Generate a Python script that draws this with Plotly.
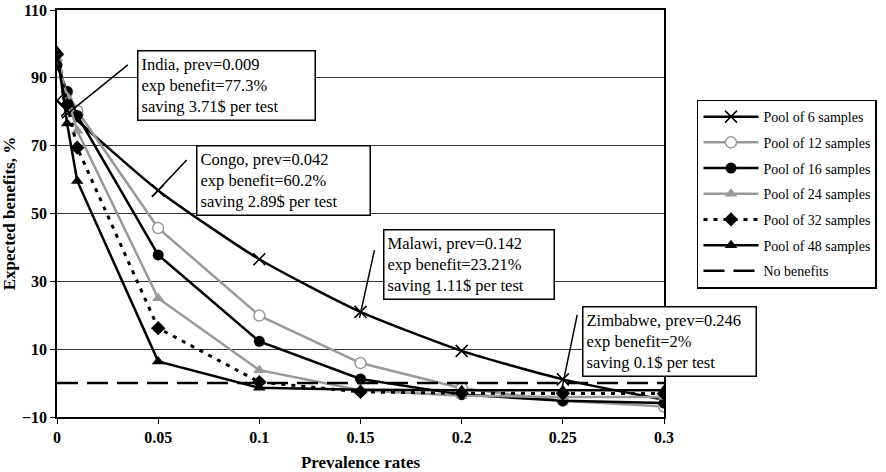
import plotly.graph_objects as go

prevalence = [0, 0.005, 0.01, 0.05, 0.1, 0.15, 0.2, 0.25, 0.3]
pool6 = [83.3, 80.4, 77.5, 56.8, 36.5, 21.0, 9.5, 1.1, -4.9]
pool12 = [91.7, 85.8, 80.3, 45.7, 19.9, 5.9, -1.5, -5.2, -6.9]
pool16 = [93.75, 86.0, 78.9, 37.8, 12.3, 1.2, -3.4, -5.2, -5.9]
pool24 = [95.8, 84.5, 74.4, 25.0, 3.8, -2.1, -3.7, -4.1, -4.1]
pool32 = [96.9, 82.1, 69.4, 16.2, 0.3, -2.6, -3.0, -3.1, -3.1]
pool48 = [97.9, 76.5, 59.6, 6.4, -1.4, -2.0, -2.1, -2.1, -2.1]
no_benefit_x = [0, 0.3]
no_benefit_y = [0, 0]

x_tickvals = [0, 0.05, 0.1, 0.15, 0.2, 0.25, 0.3]
x_ticktext = ["0", "0.05", "0.1", "0.15", "0.2", "0.25", "0.3"]
y_tickvals = [-10, 10, 30, 50, 70, 90, 110]

notes = [
    ("India, prev=0.009<br>exp benefit=77.3%<br>saving 3.71$ per test", 0.0395, 98.2, 170),
    ("Congo, prev=0.042<br>exp benefit=60.2%<br>saving 2.89$ per test", 0.0686, 70.2, 166),
    ("Malawi, prev=0.142<br>exp benefit=23.21%<br>saving 1.11$ per test", 0.1613, 45.3, 163),
    ("Zimbabwe, prev=0.246<br>exp benefit=2%<br>saving 0.1$ per test", 0.2595, 22.7, 166),
]
pointers = [
    (0.035, 93.8, 0.0025, 78.1),
    (0.0641, 65.8, 0.0469, 54.9),
    (0.1569, 39.2, 0.1495, 19.2),
    (0.2571, 20.1, 0.2492, -2.6),
]

GRAY = "#999999"
SERIF = "Liberation Serif"

fig = go.Figure()
fig.add_trace(go.Scatter(x=prevalence, y=pool6, name="Pool of 6 samples", mode="lines+markers",
                         line=dict(color="black", width=2.5, shape="spline", smoothing=0.6),
                         marker=dict(symbol="x-thin", size=12, line=dict(color="black", width=1.5)),
                         legendgroup="a"))
fig.add_trace(go.Scatter(x=prevalence, y=pool12, name="Pool of 12 samples", mode="lines+markers",
                         line=dict(color=GRAY, width=2.5),
                         marker=dict(symbol="circle", size=11, color="white", line=dict(color=GRAY, width=1.5)),
                         legendgroup="b"))
fig.add_trace(go.Scatter(x=prevalence, y=pool16, name="Pool of 16 samples", mode="lines+markers",
                         line=dict(color="black", width=2.5),
                         marker=dict(symbol="circle", size=11, color="black"),
                         legendgroup="c"))
fig.add_trace(go.Scatter(x=prevalence, y=pool24, name="Pool of 24 samples", mode="lines+markers",
                         line=dict(color=GRAY, width=2.5),
                         marker=dict(symbol="triangle-up", size=11, color=GRAY),
                         legendgroup="d"))
fig.add_trace(go.Scatter(x=prevalence, y=pool32, name="Pool of 32 samples", mode="lines+markers",
                         line=dict(color="black", width=3, dash="4px,6px"),
                         marker=dict(symbol="diamond", size=11, color="black"),
                         legendgroup="e"))
fig.add_trace(go.Scatter(x=prevalence, y=pool48, name="Pool of 48 samples", mode="lines+markers",
                         line=dict(color="black", width=2.5),
                         marker=dict(symbol="triangle-up", size=11, color="black"),
                         legendgroup="f"))
fig.add_trace(go.Scatter(x=no_benefit_x, y=no_benefit_y, name="No benefits", mode="lines",
                         line=dict(color="black", width=2.5, dash="21px,9px"),
                         legendgroup="g"))

for (x0, y0, x1, y1) in pointers:
    fig.add_shape(type="line", x0=x0, y0=y0, x1=x1, y1=y1, xref="x", yref="y",
                  line=dict(color="black", width=1.5), layer="above")

for (txt, ax, ay, w) in notes:
    fig.add_annotation(x=ax, y=ay, xref="x", yref="y", text=txt, showarrow=False,
                       xanchor="left", yanchor="top", align="left", width=w,
                       font=dict(family=SERIF, size=16.5, color="black"),
                       bgcolor="white", bordercolor="black", borderwidth=1.5, borderpad=3)

fig.update_layout(
    width=886, height=472,
    margin=dict(l=57, r=221, t=10, b=55),
    paper_bgcolor="white", plot_bgcolor="white",
    font=dict(family=SERIF, color="black"),
    legend=dict(x=1.0526, y=0.78, xanchor="left", yanchor="top",
                bordercolor="black", borderwidth=1.5, bgcolor="white",
                font=dict(family=SERIF, size=14, color="black"),
                tracegroupgap=4.5, itemwidth=55),
    xaxis=dict(range=[0, 0.3], tickvals=x_tickvals, ticktext=x_ticktext, automargin=False,
               showgrid=False, zeroline=False, showline=True, linecolor="black", linewidth=1.5,
               mirror=True, ticks="outside", ticklen=5, tickcolor="black",
               tickfont=dict(family=SERIF, size=16, color="black", weight="bold"),
               title=dict(text="Prevalence rates", standoff=19,
                          font=dict(family=SERIF, size=17, color="black", weight="bold"))),
    yaxis=dict(range=[-10, 110], tickvals=y_tickvals, automargin=False,
               showgrid=True, gridcolor="#333333", gridwidth=1,
               zeroline=False, showline=True, linecolor="black", linewidth=1.5,
               mirror=True, ticks="outside", ticklen=5, tickcolor="black",
               tickfont=dict(family=SERIF, size=16, color="black", weight="bold"),
               title=dict(text="Expected benefits, %", standoff=3,
                          font=dict(family=SERIF, size=17, color="black", weight="bold"))),
)

fig.write_html("out.html")
